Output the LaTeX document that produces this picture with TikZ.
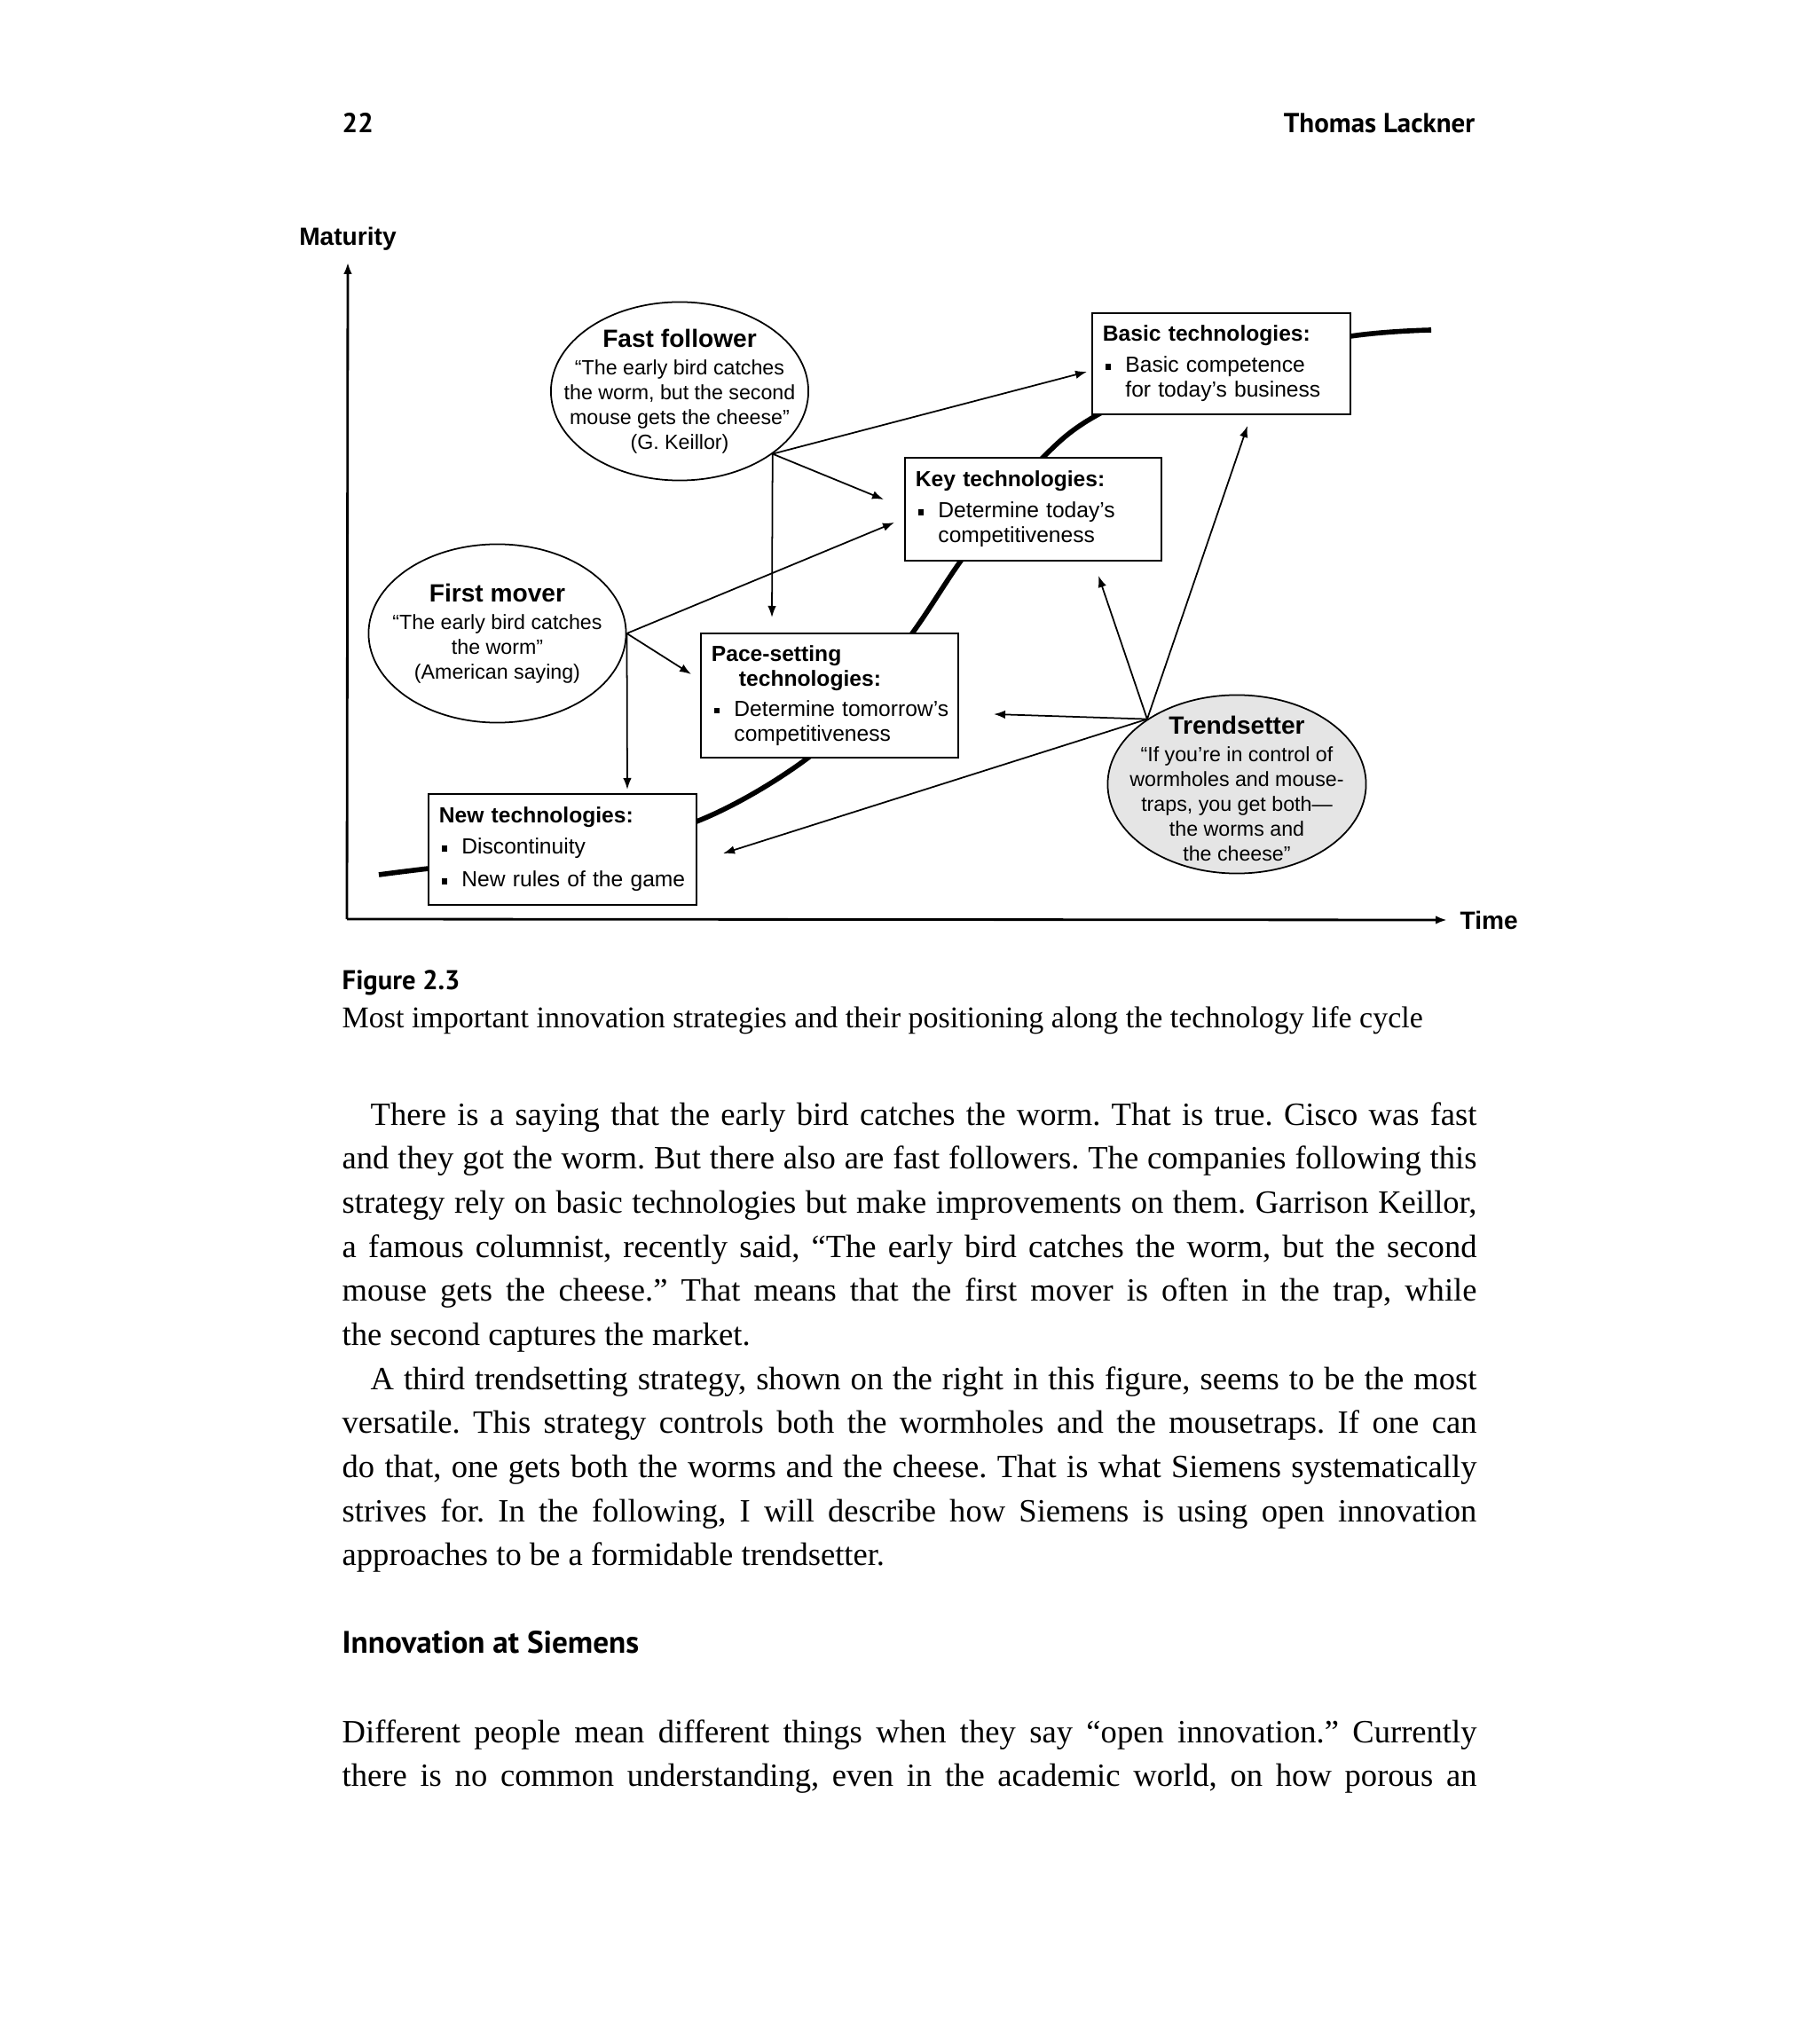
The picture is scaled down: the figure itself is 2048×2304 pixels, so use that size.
\documentclass[tikz,border=0pt]{standalone}
\usepackage{fontspec}
\setmainfont{Liberation Serif}
\newfontfamily\figfont{Liberation Sans}
\newfontfamily\headfont{PT Sans}
\usetikzlibrary{shapes.geometric,arrows.meta,positioning}

\newcommand\sqbul[1]{\hspace*{0.03cm}\makebox[0.225cm][l]{\rule[0.9pt]{1.8pt}{1.8pt}}\mbox{#1}}
\newcommand\contl[1]{\hspace*{0.255cm}\mbox{#1}}
\newcommand\jline[1]{{\spaceskip=0pt\xspaceskip=0pt\makebox[12.78cm][s]{#1}}}
\newcommand\natspace{\spaceskip=0pt\xspaceskip=0pt}
\newcommand\stitle{\figfont\bfseries\fontsize{8}{9}\selectfont}

\begin{document}
\frenchspacing
\begin{tikzpicture}[x=0.01cm,y=-0.01cm,
  techbox/.style={draw,line width=0.7pt,fill=white,inner xsep=0.12cm,inner ysep=0,
    align=left,font=\figfont\fontsize{7}{7.95}\selectfont},
  strategy/.style={ellipse,draw,line width=0.5pt,fill=white,inner sep=0,
    minimum width=2.9cm,minimum height=2.01cm},
  quote/.style={inner sep=0,align=center,font=\figfont\fontsize{6.6}{7.95}\selectfont},
  link/.style={line width=0.5pt,-{Latex[length=0.13cm,width=0.095cm]}},
  axisline/.style={line width=0.8pt,-{Latex[length=0.13cm,width=0.095cm]}},
  bodytext/.style={inner sep=0,text width=12.78cm,align=left,anchor=base west,
    font=\fontsize{10.4}{14.13}\selectfont}]
\useasboundingbox (0,0) rectangle (2048,2304);

% running head
\node[anchor=base west,inner sep=0,font=\headfont\bfseries\fontsize{8.8}{10}\selectfont] (pageno) at (385,150) {22};
\node[anchor=base east,inner sep=0,font=\headfont\bfseries\fontsize{8.8}{10}\selectfont] (author) at (1663,150) {Thomas Lackner};

% axes
\coordinate (origin) at (391,1036);
\node[inner sep=0,font=\figfont\bfseries\fontsize{8}{8}\selectfont] (mat) at (392,269) {Maturity};
\node[anchor=west,inner sep=0,font=\figfont\bfseries\fontsize{8}{8}\selectfont] (time) at (1645,1037) {Time};
\draw[axisline] (origin) -- ([yshift=-0.13cm]mat.south);
\draw[axisline] (origin) -- ([xshift=-0.14cm]time.west);

% life cycle curve
\draw[line width=1.6pt] plot[smooth,tension=0.6] coordinates {(427,986) (483,979) (640,961)
  (785,926) (911,854) (970,787) (1028,714) (1083,632) (1130,572) (1175,516) (1238,467)
  (1370,408) (1522,379) (1613,372)};

% technology boxes
\node[techbox,text width=2.67cm,minimum height=1.14cm] (basic) at (1376.5,410)
  {\textbf{Basic technologies:}\\[2pt]\sqbul{Basic competence}\\ \contl{for today’s business}};
\node[techbox,text width=2.65cm,minimum height=1.16cm] (key) at (1164.5,574)
  {\textbf{Key technologies:}\\[2pt]\sqbul{Determine today’s}\\ \contl{competitiveness}};
\node[techbox,text width=2.66cm,minimum height=1.40cm] (pace) at (935,784)
  {\textbf{Pace-setting}\\ \hspace*{0.31cm}\textbf{technologies:}\\[1.7pt]\sqbul{Determine tomorrow’s}\\ \contl{competitiveness}};
\node[techbox,text width=2.78cm,minimum height=1.25cm] (new) at (634,957.5)
  {\textbf{New technologies:}\\[2pt]\sqbul{Discontinuity}\\[2.5pt]\sqbul{New rules of the game}};

% strategies
\node[strategy,label={[quote]center:{{\stitle Fast follower}\\[0.8pt]“The early bird catches\\the worm, but the second\\mouse gets the cheese”\\(G. Keillor)}}] (ff) at (766,441) {};
\node[strategy,label={[quote]center:{{\stitle First mover}\\[0.8pt]“The early bird catches\\the worm”\\(American saying)}}] (fm) at (560.5,714) {};
\node[strategy,fill=black!10,minimum width=2.91cm,
  label={[quote,yshift=-0.05cm]center:{{\stitle Trendsetter}\\[0.8pt]“If you’re in control of\\wormholes and mouse-\\traps, you get both—\\the worms and\\the cheese”}}] (ts) at (1394,884) {};

% arrow ends
\coordinate (basicW) at (1225,419);
\coordinate (basicS) at (1406,480);
\coordinate (keyW1) at (996,563);
\coordinate (keyW2) at (1008,589);
\coordinate (keyS) at (1238,649);
\coordinate (paceN) at (870,696);
\coordinate (paceW) at (779,760);
\coordinate (paceE) at (1120,805);
\coordinate (newN) at (707,890);
\coordinate (newE) at (815,962);

\draw[link] (ff.-34) -- (basicW);
\draw[link] (ff.-34) -- (keyW1);
\draw[link] (ff.-34) -- (paceN);
\draw[link] (fm.east) -- (keyW2);
\draw[link] (fm.east) -- (paceW);
\draw[link] (fm.east) -- (newN);
\draw[link] (ts.144) -- (basicS);
\draw[link] (ts.144) -- (keyS);
\draw[link] (ts.144) -- (paceE);
\draw[link] (ts.144) -- (newE);

% caption
\node[anchor=base west,inner sep=0,font=\headfont\bfseries\fontsize{8.7}{10}\selectfont] (figno) at (385,1115) {Figure 2.3};
\node[anchor=base west,inner sep=0,font=\fontsize{9.66}{11}\selectfont] (cap) at (385,1158)
  {Most important innovation strategies and their positioning along the technology life cycle};

% running text
\node[bodytext] (p1) at (385,1268) {\natspace
\jline{\hspace*{0.32cm}There is a saying that the early bird catches the worm. That is true. Cisco was fast}\\
\jline{and they got the worm. But there also are fast followers. The companies following this}\\
\jline{strategy rely on basic technologies but make improvements on them. Garrison Keillor,}\\
\jline{a famous columnist, recently said, “The early bird catches the worm, but the second}\\
\jline{mouse gets the cheese.” That means that the first mover is often in the trap, while}\\
the second captures the market.};
\node[bodytext] (p2) at (385,1566) {\natspace
\jline{\hspace*{0.32cm}A third trendsetting strategy, shown on the right in this figure, seems to be the most}\\
\jline{versatile. This strategy controls both the wormholes and the mousetraps. If one can}\\
\jline{do that, one gets both the worms and the cheese. That is what Siemens systematically}\\
\jline{strives for. In the following, I will describe how Siemens is using open innovation}\\
approaches to be a formidable trendsetter.};
\node[anchor=base west,inner sep=0,font=\headfont\bfseries\fontsize{10}{12}\selectfont] (sec) at (385,1863) {Innovation at Siemens};
\node[bodytext] (p3) at (385,1964) {\natspace
\jline{Different people mean different things when they say “open innovation.” Currently}\\
\jline{there is no common understanding, even in the academic world, on how porous an}};
\end{tikzpicture}
\end{document}
